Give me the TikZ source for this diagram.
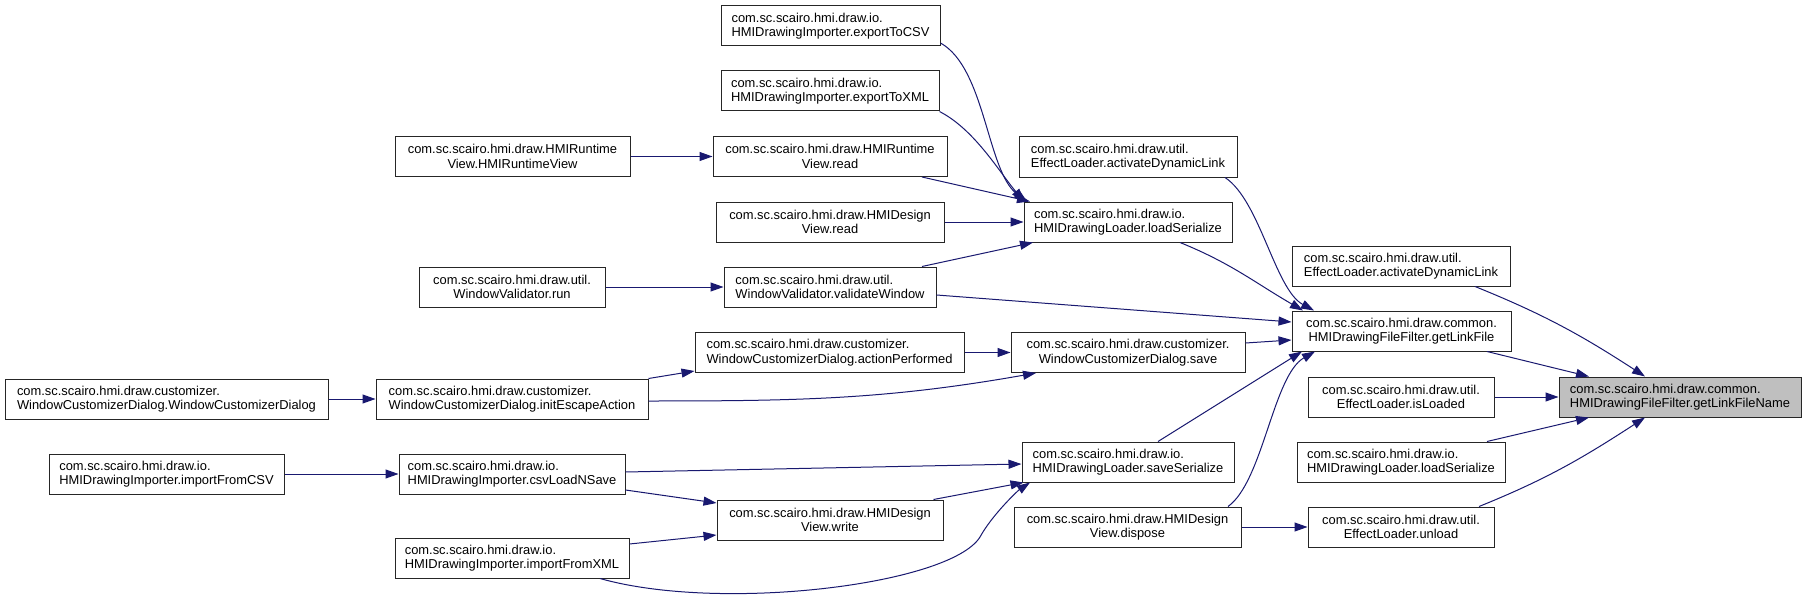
\documentclass[tikz,border=0pt]{standalone}
\usepackage{fontspec}
\setmainfont{Liberation Sans}
\usepackage{tikz}
\usetikzlibrary{arrows.meta}
\definecolor{edgeblue}{RGB}{25,25,112}
\definecolor{mainfill}{RGB}{191,191,191}

\begin{document}
\begin{tikzpicture}[
  x=1pt, y=1pt,
  every node/.style={font=\fontsize{12.9}{14.5}\selectfont},
  fn/.style={rectangle, draw=black!85, line width=1pt, fill=white, minimum height=40pt, inner sep=0pt, align=center},
  fnl/.style={fn, align=left},
  call/.style={-{Triangle[length=13pt, width=9pt]}, edgeblue, line width=1pt},
]
  \fill[white] (0,0) rectangle (1807,-599);
  \useasboundingbox (0,0) rectangle (1807,-599);

  % Appelants
  \node[fnl, minimum width=219pt] (EXCSV) at (830.5,-26) {com.sc.scairo.hmi.draw.io.\\HMIDrawingImporter.exportToCSV};
  \node[fnl, minimum width=218pt] (EXXML) at (830,-91) {com.sc.scairo.hmi.draw.io.\\HMIDrawingImporter.exportToXML};
  \node[fn, minimum width=235pt] (RTV) at (512.5,-156.5) {com.sc.scairo.hmi.draw.HMIRuntime\\View.HMIRuntimeView};
  \node[fn, minimum width=234pt] (RTR) at (830,-156.5) {com.sc.scairo.hmi.draw.HMIRuntime\\View.read};
  \node[fn, minimum width=228pt] (DVR) at (830,-222) {com.sc.scairo.hmi.draw.HMIDesign\\View.read};
  \node[fnl, minimum width=208pt] (LS) at (1128,-222) {com.sc.scairo.hmi.draw.io.\\HMIDrawingLoader.loadSerialize};
  \node[fnl, minimum width=218pt] (ADL) at (1128,-157) {com.sc.scairo.hmi.draw.util.\\EffectLoader.activateDynamicLink};
  \node[fn, minimum width=186pt] (WVR) at (512,-287) {com.sc.scairo.hmi.draw.util.\\WindowValidator.run};
  \node[fnl, minimum width=212pt] (WVV) at (830,-287) {com.sc.scairo.hmi.draw.util.\\WindowValidator.validateWindow};
  \node[fnl, minimum width=218pt] (ADL2) at (1401,-266) {com.sc.scairo.hmi.draw.util.\\EffectLoader.activateDynamicLink};
  \node[fn, minimum width=219pt] (GLF) at (1401.5,-331) {com.sc.scairo.hmi.draw.common.\\HMIDrawingFileFilter.getLinkFile};
  \node[fnl, minimum width=323pt] (WCD) at (166.5,-399) {com.sc.scairo.hmi.draw.customizer.\\WindowCustomizerDialog.WindowCustomizerDialog};
  \node[fnl, minimum width=272pt] (IEA) at (512,-399) {com.sc.scairo.hmi.draw.customizer.\\WindowCustomizerDialog.initEscapeAction};
  \node[fnl, minimum width=269pt] (AP) at (829.5,-352.5) {com.sc.scairo.hmi.draw.customizer.\\WindowCustomizerDialog.actionPerformed};
  \node[fn, minimum width=234pt] (SAVE) at (1128,-352.5) {com.sc.scairo.hmi.draw.customizer.\\WindowCustomizerDialog.save};
  \node[fn, minimum width=186pt] (ISL) at (1401,-397) {com.sc.scairo.hmi.draw.util.\\EffectLoader.isLoaded};
  \node[fnl, minimum width=235pt] (IMCSV) at (166.5,-474) {com.sc.scairo.hmi.draw.io.\\HMIDrawingImporter.importFromCSV};
  \node[fnl, minimum width=226pt] (CSV) at (512,-474) {com.sc.scairo.hmi.draw.io.\\HMIDrawingImporter.csvLoadNSave};
  \node[fnl, minimum width=212pt] (SS) at (1128,-462) {com.sc.scairo.hmi.draw.io.\\HMIDrawingLoader.saveSerialize};
  \node[fnl, minimum width=208pt] (LS2) at (1401,-462) {com.sc.scairo.hmi.draw.io.\\HMIDrawingLoader.loadSerialize};
  \node[fn, minimum width=226pt] (DVW) at (830,-520) {com.sc.scairo.hmi.draw.HMIDesign\\View.write};
  \node[fnl, minimum width=234pt] (IMXML) at (512,-558) {com.sc.scairo.hmi.draw.io.\\HMIDrawingImporter.importFromXML};
  \node[fn, minimum width=227pt] (DISP) at (1127.5,-527) {com.sc.scairo.hmi.draw.HMIDesign\\View.dispose};
  \node[fn, minimum width=186pt] (UNL) at (1401,-527) {com.sc.scairo.hmi.draw.util.\\EffectLoader.unload};

  % Fonction cible
  \node[fnl, fill=mainfill, minimum width=242pt] (GLFN) at (1680,-397) {com.sc.scairo.hmi.draw.common.\\HMIDrawingFileFilter.getLinkFileName};

  % Appels vers getLinkFileName
  \draw[call] ([xshift=74pt]ADL2.south) to[out=-22, in=147] ([xshift=-35pt]GLFN.north);
  \draw[call] ([xshift=85.5pt]GLF.south) -- ([xshift=-91pt]GLFN.north);
  \draw[call] (ISL.east) -- (GLFN.west);
  \draw[call] ([xshift=86pt]LS2.north) -- ([xshift=-91pt]GLFN.south);
  \draw[call] ([xshift=78pt]UNL.north) to[out=22, in=-147] ([xshift=-35pt]GLFN.south);

  % Appels vers getLinkFile
  \draw[call] ([xshift=97pt]ADL.south) .. controls +(35,-23) and +(-39,21) .. ([xshift=-87.5pt]GLF.north);
  \draw[call] ([xshift=52pt]LS.south) to[out=-22, in=150] ([xshift=-98.5pt]GLF.north);
  \draw[call] ([yshift=-8pt]WVV.east) -- ([yshift=9pt]GLF.west);
  \draw[call] ([yshift=9.5pt]SAVE.east) -- ([yshift=-9pt]GLF.west);
  \draw[call] ([xshift=30pt]SS.north) -- ([xshift=-99.5pt]GLF.south);
  \draw[call] ([xshift=100.5pt]DISP.north) .. controls +(35,25) and +(-42,-24) .. ([xshift=-86.5pt]GLF.south);

  % Appels vers loadSerialize
  \draw[call] ([yshift=-17pt]EXCSV.east) .. controls +(45,-25) and +(-40,30) .. ([xshift=-101pt]LS.north);
  \draw[call] (EXXML.south east) .. controls +(35,-18) and +(-25,30) .. ([xshift=-104pt]LS.north);
  \draw[call] ([xshift=92pt]RTR.south) -- ([xshift=-98pt]LS.north);
  \draw[call] (DVR.east) -- (LS.west);
  \draw[call] ([xshift=92pt]WVV.north) -- ([xshift=-95pt]LS.south);

  % Autres appels
  \draw[call] (RTV.east) -- (RTR.west);
  \draw[call] (WVR.east) -- (WVV.west);
  \draw[call] (WCD.east) -- (IEA.west);
  \draw[call] (IEA.north east) -- ([yshift=2pt]AP.south west);
  \draw[call] (AP.east) -- (SAVE.west);
  \draw[call] ([yshift=-2pt]IEA.east) to[out=0, in=-170] ([xshift=-92pt]SAVE.south);
  \draw[call] (IMCSV.east) -- (CSV.west);
  \draw[call] ([yshift=2pt]CSV.east) -- ([yshift=-2pt]SS.west);
  \draw[call] ([yshift=-16pt]CSV.east) -- ([yshift=17pt]DVW.west);
  \draw[call] ([yshift=14pt]IMXML.east) -- ([yshift=-15pt]DVW.west);
  \draw[call] ([xshift=-10pt]DVW.north east) -- ([xshift=2pt]SS.south west);
  \coordinate (bendXML) at (980,-537);
  \draw[call] ([xshift=88pt]IMXML.south) .. controls +(120,-34) and +(-30,-48) .. (bendXML)
    .. controls +(12,22) and +(-12,-8) .. ([xshift=-98pt]SS.south);
  \draw[call] (DISP.east) -- (UNL.west);
\end{tikzpicture}
\end{document}
